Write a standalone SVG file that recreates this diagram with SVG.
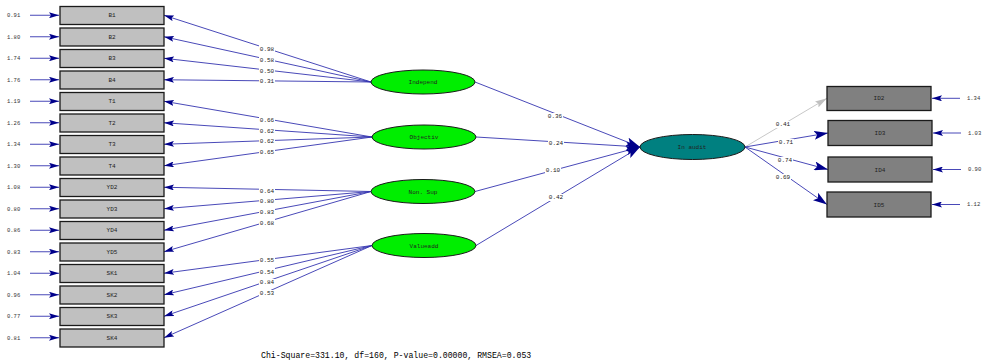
<svg xmlns="http://www.w3.org/2000/svg" width="987" height="362" viewBox="0 0 987 362">
<style>
.bg{fill:#fff}
.obs{fill:#c0c0c0;stroke:#1a1a1a;stroke-width:1.3}
.obs2{fill:#808080;stroke:#1a1a1a;stroke-width:1.3}
.lat{fill:#00ee00;stroke:#1a1a1a;stroke-width:1}
.lat2{fill:#008080;stroke:#1a1a1a;stroke-width:1}
.t{font-family:"Liberation Mono",monospace;font-size:6px;fill:#222;text-anchor:middle}
.r{font-family:"Liberation Mono",monospace;font-size:5.5px;fill:#333}
.c{stroke:#3434b0;stroke-width:0.9;fill:none;marker-end:url(#ah)}
.s{stroke:#3434b0;stroke-width:0.9;fill:none;marker-end:url(#ahb)}
.g{stroke:#c8c8c8;stroke-width:1;fill:none;marker-end:url(#ahg)}
.lb{fill:#fff}
.foot{font-family:"Liberation Mono",monospace;font-size:8.2px;fill:#000}
</style>
<defs>
<marker id="ah" markerUnits="userSpaceOnUse" markerWidth="10" markerHeight="6" refX="10" refY="3" orient="auto"><path d="M0,0 L10,3 L0,6 L2,3 z" fill="#00008b"/></marker>
<marker id="ahb" markerUnits="userSpaceOnUse" markerWidth="14" markerHeight="9" refX="14" refY="4.5" orient="auto"><path d="M0,0 L14,4.5 L0,9 L3,4.5 z" fill="#00008b"/></marker>
<marker id="ahg" markerUnits="userSpaceOnUse" markerWidth="12" markerHeight="7" refX="12" refY="3.5" orient="auto"><path d="M0,0 L12,3.5 L0,7 L2,3.5 z" fill="#c0c0c0"/></marker>
</defs>
<rect class="bg" x="0" y="0" width="987" height="362"/>

<g id="connectors">
  <path class="c" d="M30,15.25 H59"/>
  <path class="c" d="M30,36.75 H59"/>
  <path class="c" d="M30,58.25 H59"/>
  <path class="c" d="M30,79.75 H59"/>
  <path class="c" d="M30,101.25 H59"/>
  <path class="c" d="M30,122.75 H59"/>
  <path class="c" d="M30,144.25 H59"/>
  <path class="c" d="M30,165.75 H59"/>
  <path class="c" d="M30,187.25 H59"/>
  <path class="c" d="M30,208.75 H59"/>
  <path class="c" d="M30,230.25 H59"/>
  <path class="c" d="M30,251.75 H59"/>
  <path class="c" d="M30,273.25 H59"/>
  <path class="c" d="M30,294.75 H59"/>
  <path class="c" d="M30,316.25 H59"/>
  <path class="c" d="M30,337.75 H59"/>
  <path class="c" d="M371,82 L164,15.25"/>
  <path class="c" d="M371,82 L164,36.75"/>
  <path class="c" d="M371,82 L164,58.25"/>
  <path class="c" d="M371,82 L164,79.75"/>
  <path class="c" d="M372,137 L164,101.25"/>
  <path class="c" d="M372,137 L164,122.75"/>
  <path class="c" d="M372,137 L164,144.25"/>
  <path class="c" d="M372,137 L164,165.75"/>
  <path class="c" d="M371,191.5 L164,187.25"/>
  <path class="c" d="M371,191.5 L164,208.75"/>
  <path class="c" d="M371,191.5 L164,230.25"/>
  <path class="c" d="M371,191.5 L164,251.75"/>
  <path class="c" d="M372,245.5 L164,273.25"/>
  <path class="c" d="M372,245.5 L164,294.75"/>
  <path class="c" d="M372,245.5 L164,316.25"/>
  <path class="c" d="M372,245.5 L164,337.75"/>
  <path class="s" d="M475,82 L640,147"/>
  <path class="s" d="M476,137 L640,147"/>
  <path class="s" d="M475,191.5 L640,147"/>
  <path class="s" d="M476,245.5 L640,147"/>
  <path class="g" d="M745,147 L827,98.3"/>
  <path class="s" d="M745,147 L828,133"/>
  <path class="s" d="M745,147 L828,169.5"/>
  <path class="s" d="M745,147 L827,204.5"/>
  <path class="c" d="M960,98.3 H932"/>
  <path class="c" d="M961,133 H933"/>
  <path class="c" d="M961,169.5 H933"/>
  <path class="c" d="M960,204.5 H932"/>
  <g>
    <rect class="lb" x="259" y="45" width="16" height="7"/><text class="t" x="267" y="50.5">0.98</text>
    <rect class="lb" x="259" y="56" width="16" height="7"/><text class="t" x="267" y="61.5">0.58</text>
    <rect class="lb" x="259" y="67" width="16" height="7"/><text class="t" x="267" y="72.5">0.50</text>
    <rect class="lb" x="259" y="78" width="16" height="7"/><text class="t" x="267" y="83">0.31</text>
    <rect class="lb" x="259" y="116" width="16" height="7"/><text class="t" x="267" y="121.5">0.66</text>
    <rect class="lb" x="259" y="127" width="16" height="7"/><text class="t" x="267" y="132.5">0.62</text>
    <rect class="lb" x="259" y="138" width="16" height="7"/><text class="t" x="267" y="143">0.62</text>
    <rect class="lb" x="259" y="149" width="16" height="7"/><text class="t" x="267" y="154">0.65</text>
    <rect class="lb" x="259" y="187" width="16" height="7"/><text class="t" x="267" y="192.5">0.64</text>
    <rect class="lb" x="259" y="198" width="16" height="7"/><text class="t" x="267" y="203">0.80</text>
    <rect class="lb" x="259" y="209" width="16" height="7"/><text class="t" x="267" y="214">0.83</text>
    <rect class="lb" x="259" y="219" width="16" height="7"/><text class="t" x="267" y="224.5">0.68</text>
    <rect class="lb" x="259" y="257" width="16" height="7"/><text class="t" x="267" y="262">0.55</text>
    <rect class="lb" x="259" y="268" width="16" height="7"/><text class="t" x="267" y="273.5">0.54</text>
    <rect class="lb" x="259" y="279" width="16" height="7"/><text class="t" x="267" y="284">0.84</text>
    <rect class="lb" x="259" y="290" width="16" height="7"/><text class="t" x="267" y="295">0.53</text>
    <rect class="lb" x="547" y="113" width="16" height="7"/><text class="t" x="555" y="118">0.36</text>
    <rect class="lb" x="548" y="140" width="16" height="7"/><text class="t" x="556" y="145">0.24</text>
    <rect class="lb" x="545" y="167" width="16" height="7"/><text class="t" x="553" y="172">0.10</text>
    <rect class="lb" x="548" y="194" width="16" height="7"/><text class="t" x="556" y="199">0.42</text>
    <rect class="lb" x="775" y="121" width="16" height="7"/><text class="t" x="783" y="126">0.41</text>
    <rect class="lb" x="778" y="139" width="16" height="7"/><text class="t" x="786" y="144">0.71</text>
    <rect class="lb" x="777" y="157" width="16" height="7"/><text class="t" x="785" y="162">0.74</text>
    <rect class="lb" x="775" y="174" width="16" height="7"/><text class="t" x="783" y="179">0.69</text>
  </g>
</g>

<g id="res-left">
  <text class="r" x="7" y="17.2">0.91</text>
  <text class="r" x="7" y="38.7">1.80</text>
  <text class="r" x="7" y="60.2">1.74</text>
  <text class="r" x="7" y="81.7">1.76</text>
  <text class="r" x="7" y="103.2">1.19</text>
  <text class="r" x="7" y="124.7">1.26</text>
  <text class="r" x="7" y="146.2">1.34</text>
  <text class="r" x="7" y="167.7">1.30</text>
  <text class="r" x="7" y="189.2">1.08</text>
  <text class="r" x="7" y="210.7">0.80</text>
  <text class="r" x="7" y="232.2">0.86</text>
  <text class="r" x="7" y="253.7">0.83</text>
  <text class="r" x="7" y="275.2">1.04</text>
  <text class="r" x="7" y="296.7">0.96</text>
  <text class="r" x="7" y="318.2">0.77</text>
  <text class="r" x="7" y="339.7">0.81</text>
</g>
<g id="res-right">
  <text class="r" x="967" y="100.2">1.34</text>
  <text class="r" x="968" y="134.9">1.03</text>
  <text class="r" x="968" y="171.4">0.90</text>
  <text class="r" x="967" y="206.4">1.12</text>
</g>

<g id="B1"><rect class="obs" x="60" y="6.5" width="104" height="18"/><text class="t" x="112" y="17.2">B1</text></g>
<g id="B2"><rect class="obs" x="60" y="28" width="104" height="18"/><text class="t" x="112" y="38.7">B2</text></g>
<g id="B3"><rect class="obs" x="60" y="49.5" width="104" height="18"/><text class="t" x="112" y="60.2">B3</text></g>
<g id="B4"><rect class="obs" x="60" y="71" width="104" height="18"/><text class="t" x="112" y="81.7">B4</text></g>
<g id="T1"><rect class="obs" x="60" y="92.5" width="104" height="18"/><text class="t" x="112" y="103.2">T1</text></g>
<g id="T2"><rect class="obs" x="60" y="114" width="104" height="18"/><text class="t" x="112" y="124.7">T2</text></g>
<g id="T3"><rect class="obs" x="60" y="135.5" width="104" height="18"/><text class="t" x="112" y="146.2">T3</text></g>
<g id="T4"><rect class="obs" x="60" y="157" width="104" height="18"/><text class="t" x="112" y="167.7">T4</text></g>
<g id="YD2"><rect class="obs" x="60" y="178.5" width="104" height="18"/><text class="t" x="112" y="189.2">YD2</text></g>
<g id="YD3"><rect class="obs" x="60" y="200" width="104" height="18"/><text class="t" x="112" y="210.7">YD3</text></g>
<g id="YD4"><rect class="obs" x="60" y="221.5" width="104" height="18"/><text class="t" x="112" y="232.2">YD4</text></g>
<g id="YD5"><rect class="obs" x="60" y="243" width="104" height="18"/><text class="t" x="112" y="253.7">YD5</text></g>
<g id="SK1"><rect class="obs" x="60" y="264.5" width="104" height="18"/><text class="t" x="112" y="275.2">SK1</text></g>
<g id="SK2"><rect class="obs" x="60" y="286" width="104" height="18"/><text class="t" x="112" y="296.7">SK2</text></g>
<g id="SK3"><rect class="obs" x="60" y="307.5" width="104" height="18"/><text class="t" x="112" y="318.2">SK3</text></g>
<g id="SK4"><rect class="obs" x="60" y="329" width="104" height="18"/><text class="t" x="112" y="339.7">SK4</text></g>

<g id="Independ"><ellipse class="lat" cx="423" cy="82" rx="52" ry="12"/><text class="t" x="423" y="84">Independ</text></g>
<g id="Objectiv"><ellipse class="lat" cx="424" cy="137" rx="52" ry="12"/><text class="t" x="424" y="139">Objectiv</text></g>
<g id="NonSup"><ellipse class="lat" cx="423" cy="191.5" rx="52" ry="12"/><text class="t" x="423" y="193.5">Non. Sup</text></g>
<g id="Valueadd"><ellipse class="lat" cx="424" cy="245.5" rx="52" ry="12"/><text class="t" x="424" y="247.5">Valueadd</text></g>
<g id="InAudit"><ellipse class="lat2" cx="692.5" cy="147" rx="52.5" ry="12.5"/><text class="t" x="692" y="149">In audit</text></g>

<g id="ID2"><rect class="obs2" x="827" y="86.5" width="104" height="24"/><text class="t" x="879" y="100.3">ID2</text></g>
<g id="ID3"><rect class="obs2" x="828" y="120.5" width="104" height="25"/><text class="t" x="880" y="135">ID3</text></g>
<g id="ID4"><rect class="obs2" x="828" y="157" width="104" height="25"/><text class="t" x="880" y="171.5">ID4</text></g>
<g id="ID5"><rect class="obs2" x="827" y="192" width="104" height="25"/><text class="t" x="879" y="206.5">ID5</text></g>

<text class="foot" x="261" y="358">Chi-Square=331.10, df=160, P-value=0.00000, RMSEA=0.053</text>
</svg>
